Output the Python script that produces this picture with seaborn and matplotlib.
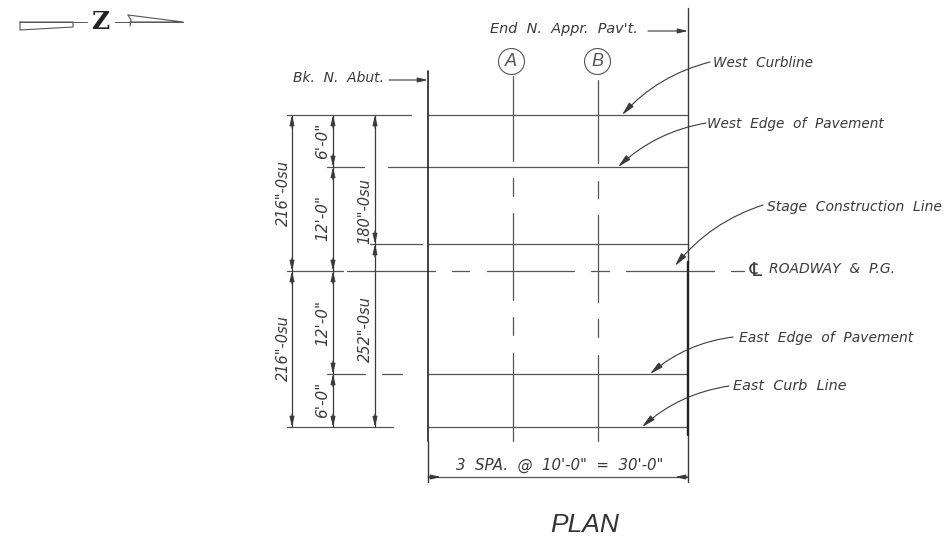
import pandas as pd
import matplotlib
matplotlib.use("Agg")
import matplotlib.pyplot as plt
import seaborn as sns

# drawing sheet, pixel coordinates of the plan
sheet_w = 948
sheet_h = 539

# horizontal lines: y, x start, x end
curb_w = [(115, 287, 411), (115, 428, 688)]
edge_w = [(167, 327, 364), (167, 388, 688)]
stage = [(244, 370, 422), (244, 428, 688)]
centerline = [(271, 287, 343), (271, 347, 435), (271, 452, 469), (271, 487, 574),
              (271, 591, 609), (271, 626, 714), (271, 731, 744)]
edge_e = [(374, 327, 365), (374, 382, 402), (374, 428, 688)]
curb_e = [(427, 287, 393), (427, 428, 688)]
span_dim = [(477, 428, 688)]

# vertical lines: x, y start, y end
col_a = [(513, 76, 161), (513, 178, 196), (513, 213, 300), (513, 317, 335), (513, 353, 441)]
col_b = [(598, 80, 163), (598, 181, 198), (598, 215, 302), (598, 319, 337), (598, 355, 441)]
dim_lines = [(292, 115, 427), (333, 115, 427), (375, 115, 427)]
thin_vert = [(428, 441, 482), (688, 8, 262), (688, 435, 482)]
abut_vert = [(428, 71, 441)]
pave_vert = [(688, 262, 435)]

# arrow heads of the dimensions: x, tip y, tail y
dim_heads = [(292, 115, 128), (292, 271, 258), (292, 271, 284), (292, 427, 414),
             (333, 115, 128), (333, 167, 154), (333, 167, 180), (333, 271, 258),
             (333, 271, 284), (333, 374, 361), (333, 374, 387), (333, 427, 414),
             (375, 115, 128), (375, 244, 231), (375, 244, 257), (375, 427, 414)]
span_heads = [(428, 441), (688, 675)]
span_y = 477

# straight pointers: x from, x to, y
pointers = [(389, 428, 80), (648, 688, 31)]

# curved leaders: start x, start y, tip x, tip y
leaders = [(710, 62, 622, 115), (706, 123, 618, 167), (763, 205, 675, 266),
           (733, 337, 650, 374), (729, 386, 642, 427)]

# grid bubbles
bubble_x = [511, 597]
bubble_y = [61, 61]
bubble_names = ["A", "B"]

# text: label, x, y, size
side_labels = [("Bk.  N.  Abut.", 293, 78, 10), ("End  N.  Appr.  Pav't.", 490, 29, 10.4),
               ("West  Curbline", 713, 63, 9.8), ("West  Edge  of  Pavement", 707, 124, 9.8),
               ("Stage  Construction  Line", 767, 207, 10), ("ROADWAY  &  P.G.", 769, 269, 10),
               ("East  Edge  of  Pavement", 739, 338, 10), ("East  Curb  Line", 733, 386, 10.4),
               ("3  SPA.  @  10'-0\"  =  30'-0\"", 456, 465, 10.8)]
dim_labels = [("216\"-0su", 283, 193, 10.5), ("6'-0\"", 323, 141, 11), ("12'-0\"", 323, 218, 11),
              ("180\"-0su", 365, 211, 10.5), ("216\"-0su", 283, 348, 10.5), ("12'-0\"", 323, 323, 11),
              ("6'-0\"", 323, 400, 11), ("252\"-0su", 365, 329, 10.5)]

# north arrow
north_shaft = [(22, 20, 87), (22, 115, 183)]
feather_x = [20, 73, 73, 20, 20]
feather_y = [22, 22, 27, 30, 22]
barb_x = [128, 183, 130]
barb_y = [15, 22, 22]
tick_x = [128, 131, 130]
tick_y = [15, 20, 26]

ink = "#3a3a3a"
thin = "#555555"


def hline_rows(rows):
    out = []
    for i, (y, x0, x1) in enumerate(rows):
        out += [{"seg": i, "x": x0, "y": y}, {"seg": i, "x": x1, "y": y}]
    return pd.DataFrame(out)


def vline_rows(rows):
    out = []
    for i, (x, y0, y1) in enumerate(rows):
        out += [{"seg": i, "x": x, "y": y0}, {"seg": i, "x": x, "y": y1}]
    return pd.DataFrame(out)


def draw(df, color=thin, lw=0.9):
    sns.lineplot(data=df, x="x", y="y", units="seg", estimator=None, sort=False,
                 color=color, lw=lw, ax=ax, legend=False)


def head(x0, y0, x1, y1, rad=0.0, length=0.6, width=0.14, style="-|>"):
    ax.annotate("", xy=(x1, y1), xytext=(x0, y0),
                arrowprops=dict(arrowstyle=f"{style},head_length={length},head_width={width}",
                                connectionstyle=f"arc3,rad={rad}", color=ink, lw=0.8,
                                shrinkA=0, shrinkB=0, mutation_scale=10))


sns.set_theme(style="white")
plt.rcParams["font.family"] = ["Liberation Sans", "DejaVu Sans"]

fig = plt.figure(figsize=(sheet_w / 100, sheet_h / 100), dpi=100, facecolor="white")
ax = fig.add_axes([0, 0, 1, 1])

draw(hline_rows(curb_w + edge_w + stage + curb_e + edge_e + centerline), color=thin, lw=0.9)
draw(hline_rows(span_dim), color=thin, lw=0.9)
draw(vline_rows(col_a + col_b), color=thin, lw=0.9)
draw(vline_rows(dim_lines), color=ink, lw=0.9)
draw(vline_rows(thin_vert), color=ink, lw=1.0)
draw(vline_rows(abut_vert), color="#222222", lw=1.2)
draw(vline_rows(pave_vert), color="#222222", lw=1.7)

for x, tip, tail in dim_heads:
    head(x, tail, x, tip)
for tail, tip in span_heads:
    head(tail, span_y, tip, span_y)
for x0, x1, y in pointers:
    head(x0, y, x1, y)
for x0, y0, x1, y1 in leaders:
    head(x0, y0, x1, y1, rad=0.15, length=0.8, width=0.18)

# grid bubbles
sns.scatterplot(x=bubble_x, y=bubble_y, s=350, marker="o", facecolor="white",
                edgecolor=thin, linewidth=0.8, ax=ax, legend=False, zorder=3)
for name, x, y in zip(bubble_names, bubble_x, bubble_y):
    ax.text(x, y, name, fontsize=13, style="italic", color=thin, ha="center", va="center", zorder=4)

for label, x, y, size in side_labels:
    ax.text(x, y, label, fontsize=size, style="italic", color=ink, ha="left", va="center",
            family="DejaVu Sans", fontweight="light")
for label, x, y, size in dim_labels:
    ax.text(x, y, label, fontsize=size, style="italic", color=ink, rotation=90, ha="center",
            va="center", family="DejaVu Sans")

# centerline sign
ax.text(756, 270, "\u2104", fontsize=14, style="italic", color=ink, ha="center", va="center",
        family="DejaVu Sans")
ax.text(585, 525, "PLAN", fontsize=19, style="italic", color="#333333", ha="center", va="center")

# north arrow
draw(hline_rows(north_shaft), color=thin, lw=0.7)
sns.lineplot(x=feather_x, y=feather_y, sort=False, estimator=None, color=thin, lw=0.8, ax=ax)
sns.lineplot(x=barb_x, y=barb_y, sort=False, estimator=None, color=thin, lw=0.8, ax=ax)
sns.lineplot(x=tick_x, y=tick_y, sort=False, estimator=None, color=thin, lw=0.8, ax=ax)
ax.text(100, 22, "Z", fontsize=18, fontweight="bold", color="#222222", ha="center", va="center",
        family="DejaVu Serif")

ax.set_xlim(0, sheet_w)
ax.set_ylim(sheet_h, 0)
ax.axis("off")

fig.savefig("out.png", dpi=100, facecolor="white")
